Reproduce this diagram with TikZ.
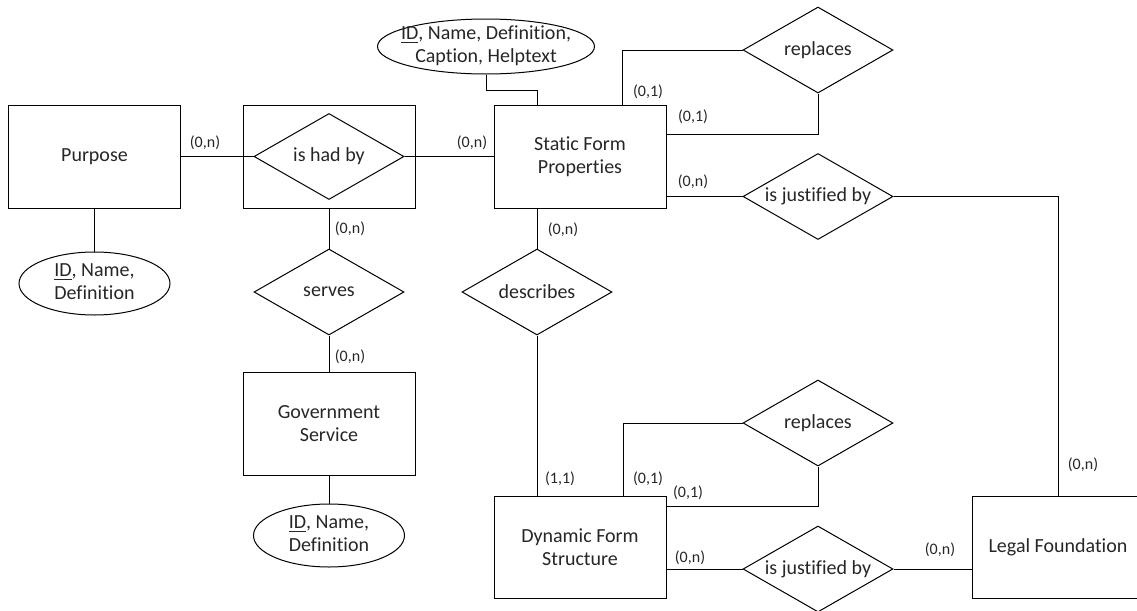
\documentclass[tikz,border=0pt]{standalone}
\usepackage{fontspec}
\setmainfont{Carlito}[Ligatures={NoCommon}]
\usetikzlibrary{shapes.geometric}

\tikzset{
    entity/.style={draw,rectangle,minimum width=86pt,minimum height=51.5pt,inner sep=0pt,align=center},
    relation/.style={draw,diamond,aspect=1.744,minimum width=75pt,minimum height=43pt,inner sep=0pt,align=center},
    attrib/.style={draw,ellipse,inner sep=0pt},
    card/.style={inner sep=0pt,font=\fontsize{8}{9}\selectfont},
}
\newcommand{\attrtext}[2]{\smash{\makebox[0pt]{\raisebox{-2.4pt}{\begin{tabular}{@{}c@{}}#1\\#2\end{tabular}}}}}

\begin{document}
\begin{tikzpicture}[x=0.5pt,y=-0.5pt,line width=0.5pt,font=\fontsize{10}{11.5}\selectfont,text=black!85]
    \useasboundingbox (0,0) rectangle (1137,611);

    % entities
    \node[entity] (purpose) at (94.5,156.5) {Purpose};
    \node[entity] (hadbox) at (329,156.5) {};
    \node[entity] (sfp) at (580,156.5) {Static Form\\Properties};
    \node[entity] (govsvc) at (329,423.5) {Government\\Service};
    \node[entity,minimum height=51pt] (dfs) at (580,547) {Dynamic Form\\Structure};
    \node[entity,minimum height=51pt] (legal) at (1058,547) {Legal Foundation};

    % relationships
    \node[relation] (hadby) at (329,156.5) {is had by};
    \node[relation] (serves) at (329,292) {serves};
    \node[relation] (describes) at (537,292) {describes};
    \node[relation] (replS) at (818,50) {replaces};
    \node[relation] (justS) at (818,196.5) {is justified by};
    \node[relation] (replD) at (818,423) {replaces};
    \node[relation] (justD) at (818,569) {is justified by};

    % attributes
    \node[attrib,minimum width=75.5pt,minimum height=31.5pt] (attrP) at (94.5,283.5) {\attrtext{\underline{ID}, Name,}{Definition}};
    \node[attrib,minimum width=75.5pt,minimum height=31.5pt] (attrG) at (329,535.5) {\attrtext{\underline{ID}, Name,}{Definition}};
    \node[attrib,minimum width=108.5pt,minimum height=27.5pt] (attrS) at (486,46.5) {\attrtext{\underline{ID}, Name, Definition,}{Caption, Helptext}};

    % connectors
    \draw (purpose.east) -- (hadby.west);
    \draw (hadby.east) -- (sfp.west);
    \draw (hadbox.south) -- (serves.north);
    \draw (serves.south) -- (govsvc.north);
    \draw (purpose.south) -- (attrP.north);
    \draw (govsvc.south) -- (attrG.north);
    \draw (attrS.south) -- ++(0,16) -| (describes.north |- sfp.north);
    \draw ([xshift=21pt]sfp.north) |- (replS.west);
    \draw ([yshift=11.25pt]sfp.east) -| (replS.south);
    \draw (justS.west -| sfp.east) -- (justS.west);
    \draw (justS.east) -| (legal.north);
    \draw (describes.north |- sfp.south) -- (describes.north);
    \draw (describes.south) -- (describes.south |- dfs.north);
    \draw ([xshift=21.5pt]dfs.north) |- (replD.west);
    \draw ([yshift=-5.5pt]dfs.north east) -| (replD.south);
    \draw (justD.west -| dfs.east) -- (justD.west);
    \draw (justD.east) -- (justD.east -| legal.west);

    % cardinalities
    \foreach \lx/\ly/\lt [count=\i] in {205/143/{(0,n)}, 472/143/{(0,n)}, 350/229/{(0,n)}, 350/357/{(0,n)},
            648/92/{(0,1)}, 693/117/{(0,1)}, 693/182/{(0,n)}, 563/230/{(0,n)},
            560/479/{(1,1)}, 648/479/{(0,1)}, 688/493/{(0,1)}, 690/558/{(0,n)},
            940/550/{(0,n)}, 1083/465/{(0,n)}} {
        \node[card] (card\i) at (\lx,\ly) {\lt};
    }
\end{tikzpicture}
\end{document}
